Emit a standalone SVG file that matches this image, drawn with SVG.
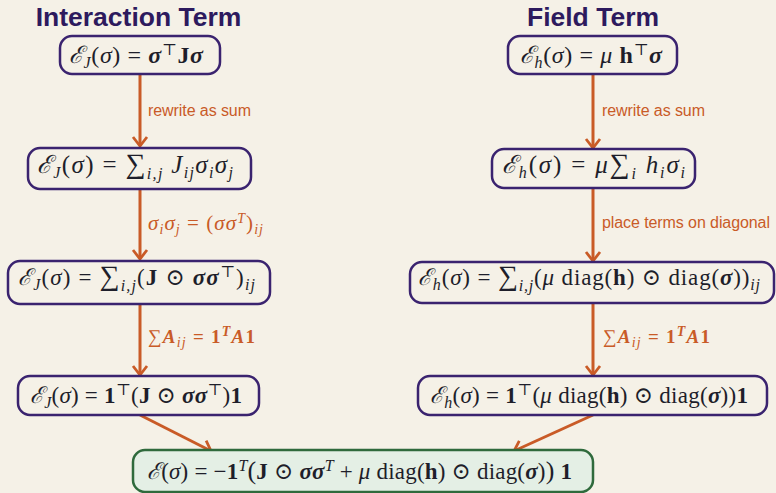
<svg xmlns="http://www.w3.org/2000/svg" width="776" height="493" viewBox="0 0 776 493">
<defs>
<style>
.title{font-family:"Liberation Sans",Arial,sans-serif;font-weight:bold;font-size:26.5px;fill:#2d1a5e;text-anchor:middle}
.box{fill:#f5f1e7;stroke:#3a236f;stroke-width:2.5}
.fin{fill:#e4efe5;stroke:#2f6a3c;stroke-width:2.5}
.m{font-family:"Liberation Serif","DejaVu Serif",serif;font-size:23px;fill:#1e1e2a}
.i{font-style:italic}
.b{font-weight:bold}
.bi{font-weight:bold;font-style:italic}
.s{font-size:16px}
.S{font-size:28px}
.lab{font-family:"Liberation Sans",Arial,sans-serif;font-size:16px;fill:#c95b27}
.ml{font-family:"Liberation Serif","DejaVu Serif",serif;font-size:19px;fill:#c95b27}
.ms{font-size:14px;font-style:italic}
.edge{stroke:#c95b27;stroke-width:3;fill:none}
</style>
<marker id="ah" viewBox="-12 -9 14 18" markerWidth="14" markerHeight="18" refX="0" refY="0" orient="auto" markerUnits="userSpaceOnUse">
<path d="M-9,-7 L0,0 L-9,7" fill="none" stroke="#c95b27" stroke-width="2.8"/>
</marker>
</defs>
<rect x="0" y="0" width="776" height="493" fill="#f5f1e7"/>
<text class="title" x="138.5" y="26">Interaction Term</text>
<text class="title" x="593" y="26">Field Term</text>

<g id="connectors">
<line class="edge" x1="140" y1="74" x2="140" y2="146" marker-end="url(#ah)"/>
<line class="edge" x1="140" y1="189" x2="140" y2="259" marker-end="url(#ah)"/>
<line class="edge" x1="140" y1="304" x2="140" y2="375" marker-end="url(#ah)"/>
<line class="edge" x1="593" y1="74" x2="593" y2="148" marker-end="url(#ah)"/>
<line class="edge" x1="593" y1="188" x2="593" y2="261" marker-end="url(#ah)"/>
<line class="edge" x1="593" y1="303" x2="593" y2="375" marker-end="url(#ah)"/>
<line class="edge" x1="140" y1="415" x2="211" y2="451" marker-end="url(#ah)"/>
<line class="edge" x1="593" y1="415" x2="514" y2="451" marker-end="url(#ah)"/>
<text class="lab" x="148" y="116" textLength="103" lengthAdjust="spacing">rewrite as sum</text>
<text class="ml" x="148" y="230" style="font-size:21px" textLength="115" lengthAdjust="spacing"><tspan class="i">σ</tspan><tspan class="ms" dy="4">i</tspan><tspan class="i" dy="-4">σ</tspan><tspan class="ms" dy="4">j</tspan><tspan dy="-4"> = (</tspan><tspan class="i">σσ</tspan><tspan class="ms" dy="-7">T</tspan><tspan dy="7">)</tspan><tspan class="ms" dy="4">ij</tspan></text>
<text class="ml" x="148" y="343" textLength="107" lengthAdjust="spacing"><tspan>∑</tspan><tspan class="bi">A</tspan><tspan class="ms" dy="4">ij</tspan><tspan class="b" dy="-4"> = 1</tspan><tspan class="ms b" dy="-7">T</tspan><tspan class="bi" dy="7">A</tspan><tspan class="b">1</tspan></text>
<text class="lab" x="602" y="116" textLength="103" lengthAdjust="spacing">rewrite as sum</text>
<text class="lab" x="602" y="228" textLength="168" lengthAdjust="spacing">place terms on diagonal</text>
<text class="ml" x="603" y="343" textLength="107" lengthAdjust="spacing"><tspan>∑</tspan><tspan class="bi">A</tspan><tspan class="ms" dy="4">ij</tspan><tspan class="b" dy="-4"> = 1</tspan><tspan class="ms b" dy="-7">T</tspan><tspan class="bi" dy="7">A</tspan><tspan class="b">1</tspan></text>
</g>

<g id="nodeJ1">
<rect class="box" x="60" y="36" width="160" height="38" rx="12"/>
<text class="m" x="69" y="63" style="font-size:24px" textLength="134" lengthAdjust="spacing"><tspan class="i">ℰ</tspan><tspan class="i s" dy="5">J</tspan><tspan dy="-5">(</tspan><tspan class="i">σ</tspan><tspan>) = </tspan><tspan class="bi">σ</tspan><tspan class="s" dy="-8">⊤</tspan><tspan class="b" dy="8">J</tspan><tspan class="bi">σ</tspan></text>
</g>
<g id="nodeJ2">
<rect class="box" x="28" y="148" width="223" height="41" rx="12"/>
<text class="m" x="37" y="173" style="font-size:25px" textLength="196" lengthAdjust="spacing"><tspan class="i">ℰ</tspan><tspan class="i s" dy="5">J</tspan><tspan dy="-5">(</tspan><tspan class="i">σ</tspan><tspan>) = </tspan><tspan class="S">∑</tspan><tspan class="i s" dy="6">i,j</tspan><tspan class="i" dy="-6"> J</tspan><tspan class="i s" dy="5">ij</tspan><tspan class="i" dy="-5">σ</tspan><tspan class="i s" dy="5">i</tspan><tspan class="i" dy="-5">σ</tspan><tspan class="i s" dy="5">j</tspan></text>
</g>
<g id="nodeJ3">
<rect class="box" x="8" y="261" width="262" height="43" rx="12"/>
<text class="m" x="18" y="285" textLength="237" lengthAdjust="spacing"><tspan class="i">ℰ</tspan><tspan class="i s" dy="5">J</tspan><tspan dy="-5">(</tspan><tspan class="i">σ</tspan><tspan>) = </tspan><tspan class="S">∑</tspan><tspan class="i s" dy="6">i,j</tspan><tspan dy="-6">(</tspan><tspan class="b">J</tspan><tspan> ⊙ </tspan><tspan class="bi">σσ</tspan><tspan class="s" dy="-8">⊤</tspan><tspan dy="8">)</tspan><tspan class="i s" dy="5">ij</tspan></text>
</g>
<g id="nodeJ4">
<rect class="box" x="18" y="376" width="241" height="39" rx="12"/>
<text class="m" x="30" y="403" textLength="212" lengthAdjust="spacing"><tspan class="i">ℰ</tspan><tspan class="i s" dy="5">J</tspan><tspan dy="-5">(</tspan><tspan class="i">σ</tspan><tspan>) = </tspan><tspan class="b">1</tspan><tspan class="s" dy="-8">⊤</tspan><tspan dy="8">(</tspan><tspan class="b">J</tspan><tspan> ⊙ </tspan><tspan class="bi">σσ</tspan><tspan class="s" dy="-8">⊤</tspan><tspan dy="8">)</tspan><tspan class="b">1</tspan></text>
</g>

<g id="nodeH1">
<rect class="box" x="508" y="36" width="169" height="38" rx="12"/>
<text class="m" x="520" y="63" style="font-size:24px" textLength="142" lengthAdjust="spacing"><tspan class="i">ℰ</tspan><tspan class="i s" dy="5">h</tspan><tspan dy="-5">(</tspan><tspan class="i">σ</tspan><tspan>) = </tspan><tspan class="i">μ </tspan><tspan class="b">h</tspan><tspan class="s" dy="-8">⊤</tspan><tspan class="bi" dy="8">σ</tspan></text>
</g>
<g id="nodeH2">
<rect class="box" x="492" y="149" width="203" height="39" rx="12"/>
<text class="m" x="502" y="173" style="font-size:25px" textLength="183" lengthAdjust="spacing"><tspan class="i">ℰ</tspan><tspan class="i s" dy="5">h</tspan><tspan dy="-5">(</tspan><tspan class="i">σ</tspan><tspan>) = </tspan><tspan class="i">μ</tspan><tspan class="S">∑</tspan><tspan class="i s" dy="6">i</tspan><tspan class="i" dy="-6"> h</tspan><tspan class="i s" dy="5">i</tspan><tspan class="i" dy="-5">σ</tspan><tspan class="i s" dy="5">i</tspan></text>
</g>
<g id="nodeH3">
<rect class="box" x="410" y="262" width="364" height="41" rx="12"/>
<text class="m" x="418" y="285" textLength="342" lengthAdjust="spacing"><tspan class="i">ℰ</tspan><tspan class="i s" dy="5">h</tspan><tspan dy="-5">(</tspan><tspan class="i">σ</tspan><tspan>) = </tspan><tspan class="S">∑</tspan><tspan class="i s" dy="6">i,j</tspan><tspan dy="-6">(</tspan><tspan class="i">μ</tspan><tspan> diag(</tspan><tspan class="b">h</tspan><tspan>) ⊙ diag(</tspan><tspan class="bi">σ</tspan><tspan>))</tspan><tspan class="i s" dy="5">ij</tspan></text>
</g>
<g id="nodeH4">
<rect class="box" x="418" y="376" width="349" height="39" rx="12"/>
<text class="m" x="430" y="403" textLength="318" lengthAdjust="spacing"><tspan class="i">ℰ</tspan><tspan class="i s" dy="5">h</tspan><tspan dy="-5">(</tspan><tspan class="i">σ</tspan><tspan>) = </tspan><tspan class="b">1</tspan><tspan class="s" dy="-8">⊤</tspan><tspan dy="8">(</tspan><tspan class="i">μ</tspan><tspan> diag(</tspan><tspan class="b">h</tspan><tspan>) ⊙ diag(</tspan><tspan class="bi">σ</tspan><tspan>))</tspan><tspan class="b">1</tspan></text>
</g>

<g id="nodeFinal">
<rect class="fin" x="133" y="450" width="460" height="42" rx="12"/>
<text class="m" x="147" y="479" textLength="425" lengthAdjust="spacing"><tspan class="i">ℰ</tspan><tspan>(</tspan><tspan class="i">σ</tspan><tspan>) = −</tspan><tspan class="b">1</tspan><tspan class="i s" dy="-8">T</tspan><tspan dy="8" style="font-size:26px">(</tspan><tspan class="b">J</tspan><tspan> ⊙ </tspan><tspan class="bi">σσ</tspan><tspan class="i s" dy="-8">T</tspan><tspan dy="8"> + </tspan><tspan class="i">μ</tspan><tspan> diag(</tspan><tspan class="b">h</tspan><tspan>) ⊙ diag(</tspan><tspan class="bi">σ</tspan><tspan>)</tspan><tspan style="font-size:26px">)</tspan><tspan class="b"> 1</tspan></text>
</g>
</svg>
